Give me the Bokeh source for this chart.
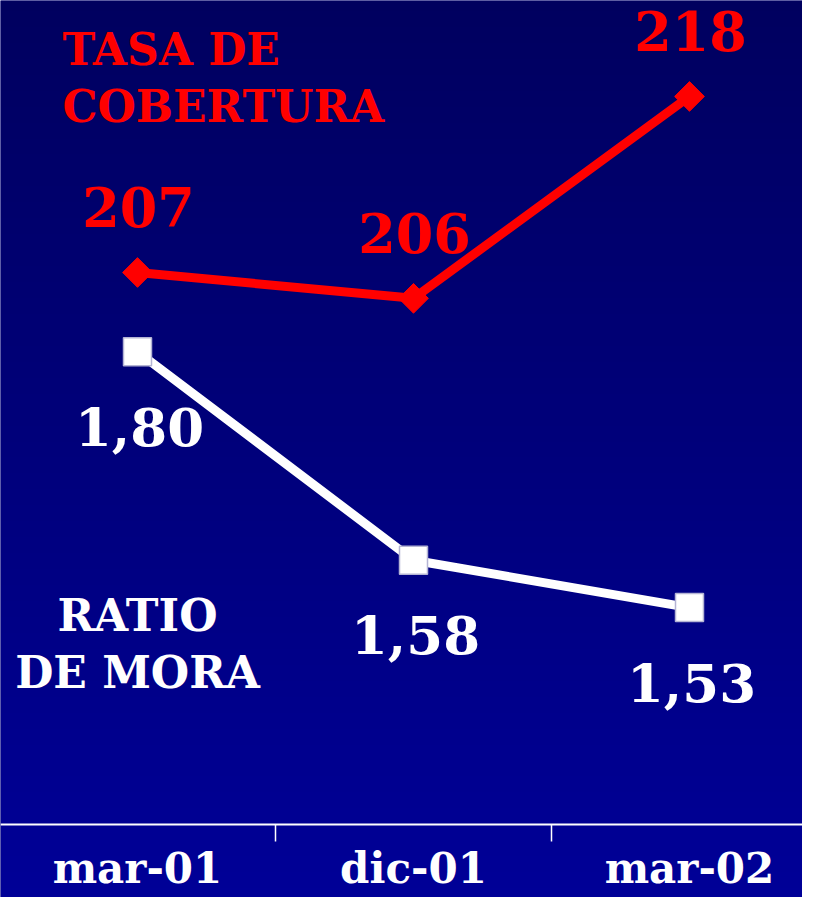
import numpy as np
from bokeh.plotting import figure
from bokeh.models import ColumnDataSource, Range1d, LinearAxis, FixedTicker, Label
from bokeh.core.properties import value
from bokeh.embed import file_html
from bokeh.resources import INLINE

# ---- data ----
months = ["mar-01", "dic-01", "mar-02"]
cobertura = [207.2, 205.6, 218.1]   # tasa de cobertura (%)
mora = [1.80, 1.58, 1.53]           # ratio de mora (%)

x_idx = list(range(len(months)))
cob_labels = [f"{v:.0f}" for v in cobertura]
mora_labels = [f"{v:.2f}".replace(".", ",") for v in mora]

FONT = "DejaVu Serif"

W, H = 802, 897
x_range = Range1d(-0.49638, 2.40942)
y_cob = Range1d(168.500, 224.042)
y_mora = Range1d(1.22412, 2.17062)
AXIS_AT = 172.99  # position of the category axis on the cobertura scale

p = figure(width=W, height=H, x_range=x_range, y_range=y_cob,
           output_backend="svg", toolbar_location=None,
           x_axis_location=None, y_axis_location=None,
           min_border=0, outline_line_color=None,
           border_fill_color="#000096", background_fill_color="#000078")
p.extra_y_ranges = {"mora": y_mora}
p.grid.visible = False

# background gradient (decoration)
n = 450
t = np.linspace(0.0, 1.0, n)          # row 0 = bottom
blues = np.round(0x97 - (0x97 - 0x5f) * t).astype(np.uint8)
img = np.zeros((n, 1), dtype=np.uint32)
view = img.view(dtype=np.uint8).reshape((n, 1, 4))
view[:, 0, 2] = blues
view[:, 0, 3] = 255
p.image_rgba(image=[img], x=x_range.start, y=y_cob.start,
             dw=x_range.end - x_range.start, dh=y_cob.end - y_cob.start, level="image")

src_cob = ColumnDataSource(dict(x=x_idx, y=cobertura, label=cob_labels))
src_mora = ColumnDataSource(dict(x=x_idx, y=mora, label=mora_labels))

# ratio de mora (white)
p.line("x", "y", source=src_mora, y_range_name="mora", line_color="white", line_width=9)
p.scatter("x", "y", source=src_mora, y_range_name="mora", marker="square", size=28,
          fill_color="white", line_color="#b4b4d4", line_width=1.5)
p.text("x", "y", text="label", source=src_mora, y_range_name="mora",
       text_font=value(FONT), text_font_style="bold", text_font_size="53px",
       text_color="white", text_align="center", text_baseline="alphabetic",
       x_offset=2, y_offset=75)

# tasa de cobertura (red)
p.line("x", "y", source=src_cob, line_color="#ff0000", line_width=9)
p.scatter("x", "y", source=src_cob, marker="square", angle=np.pi / 4, size=21,
          fill_color="#ff0000", line_color="#ff0000", line_width=1)
p.text("x", "y", text="label", source=src_cob,
       text_font=value(FONT), text_font_style="bold", text_font_size="54px",
       text_color="#ff0000", text_align="center", text_baseline="alphabetic",
       x_offset=1, y_offset=-65)

# series titles
for txt, yy in (("TASA DE", 221.008), ("COBERTURA", 217.479)):
    p.add_layout(Label(x=-0.2717, y=yy, text=txt, text_align="left",
                       text_baseline="alphabetic", text_font=FONT,
                       text_font_style="bold", text_font_size="44px",
                       text_color="#ff0000"))
for txt, yy in (("RATIO", 1.52168), ("DE MORA", 1.46154)):
    p.add_layout(Label(x=0, y=yy, y_range_name="mora", text=txt, text_align="center",
                       text_baseline="alphabetic", text_font=FONT,
                       text_font_style="bold", text_font_size="44px",
                       text_color="white"))

# category axis
xaxis = LinearAxis(ticker=FixedTicker(ticks=x_idx, minor_ticks=[0.5, 1.5]),
                   major_label_overrides={i: m for i, m in enumerate(months)},
                   fixed_location=AXIS_AT)
xaxis.axis_line_color = "white"
xaxis.axis_line_width = 2
xaxis.major_tick_line_color = None
xaxis.major_tick_out = 0
xaxis.major_tick_in = 0
xaxis.minor_tick_line_color = "white"
xaxis.minor_tick_line_width = 1.5
xaxis.minor_tick_out = 17
xaxis.minor_tick_in = 0
xaxis.major_label_text_color = "white"
xaxis.major_label_text_font = FONT
xaxis.major_label_text_font_style = "bold"
xaxis.major_label_text_font_size = "42px"
xaxis.major_label_standoff = 2
p.add_layout(xaxis, "below")

open("out.html", "w").write(file_html(p, INLINE))
